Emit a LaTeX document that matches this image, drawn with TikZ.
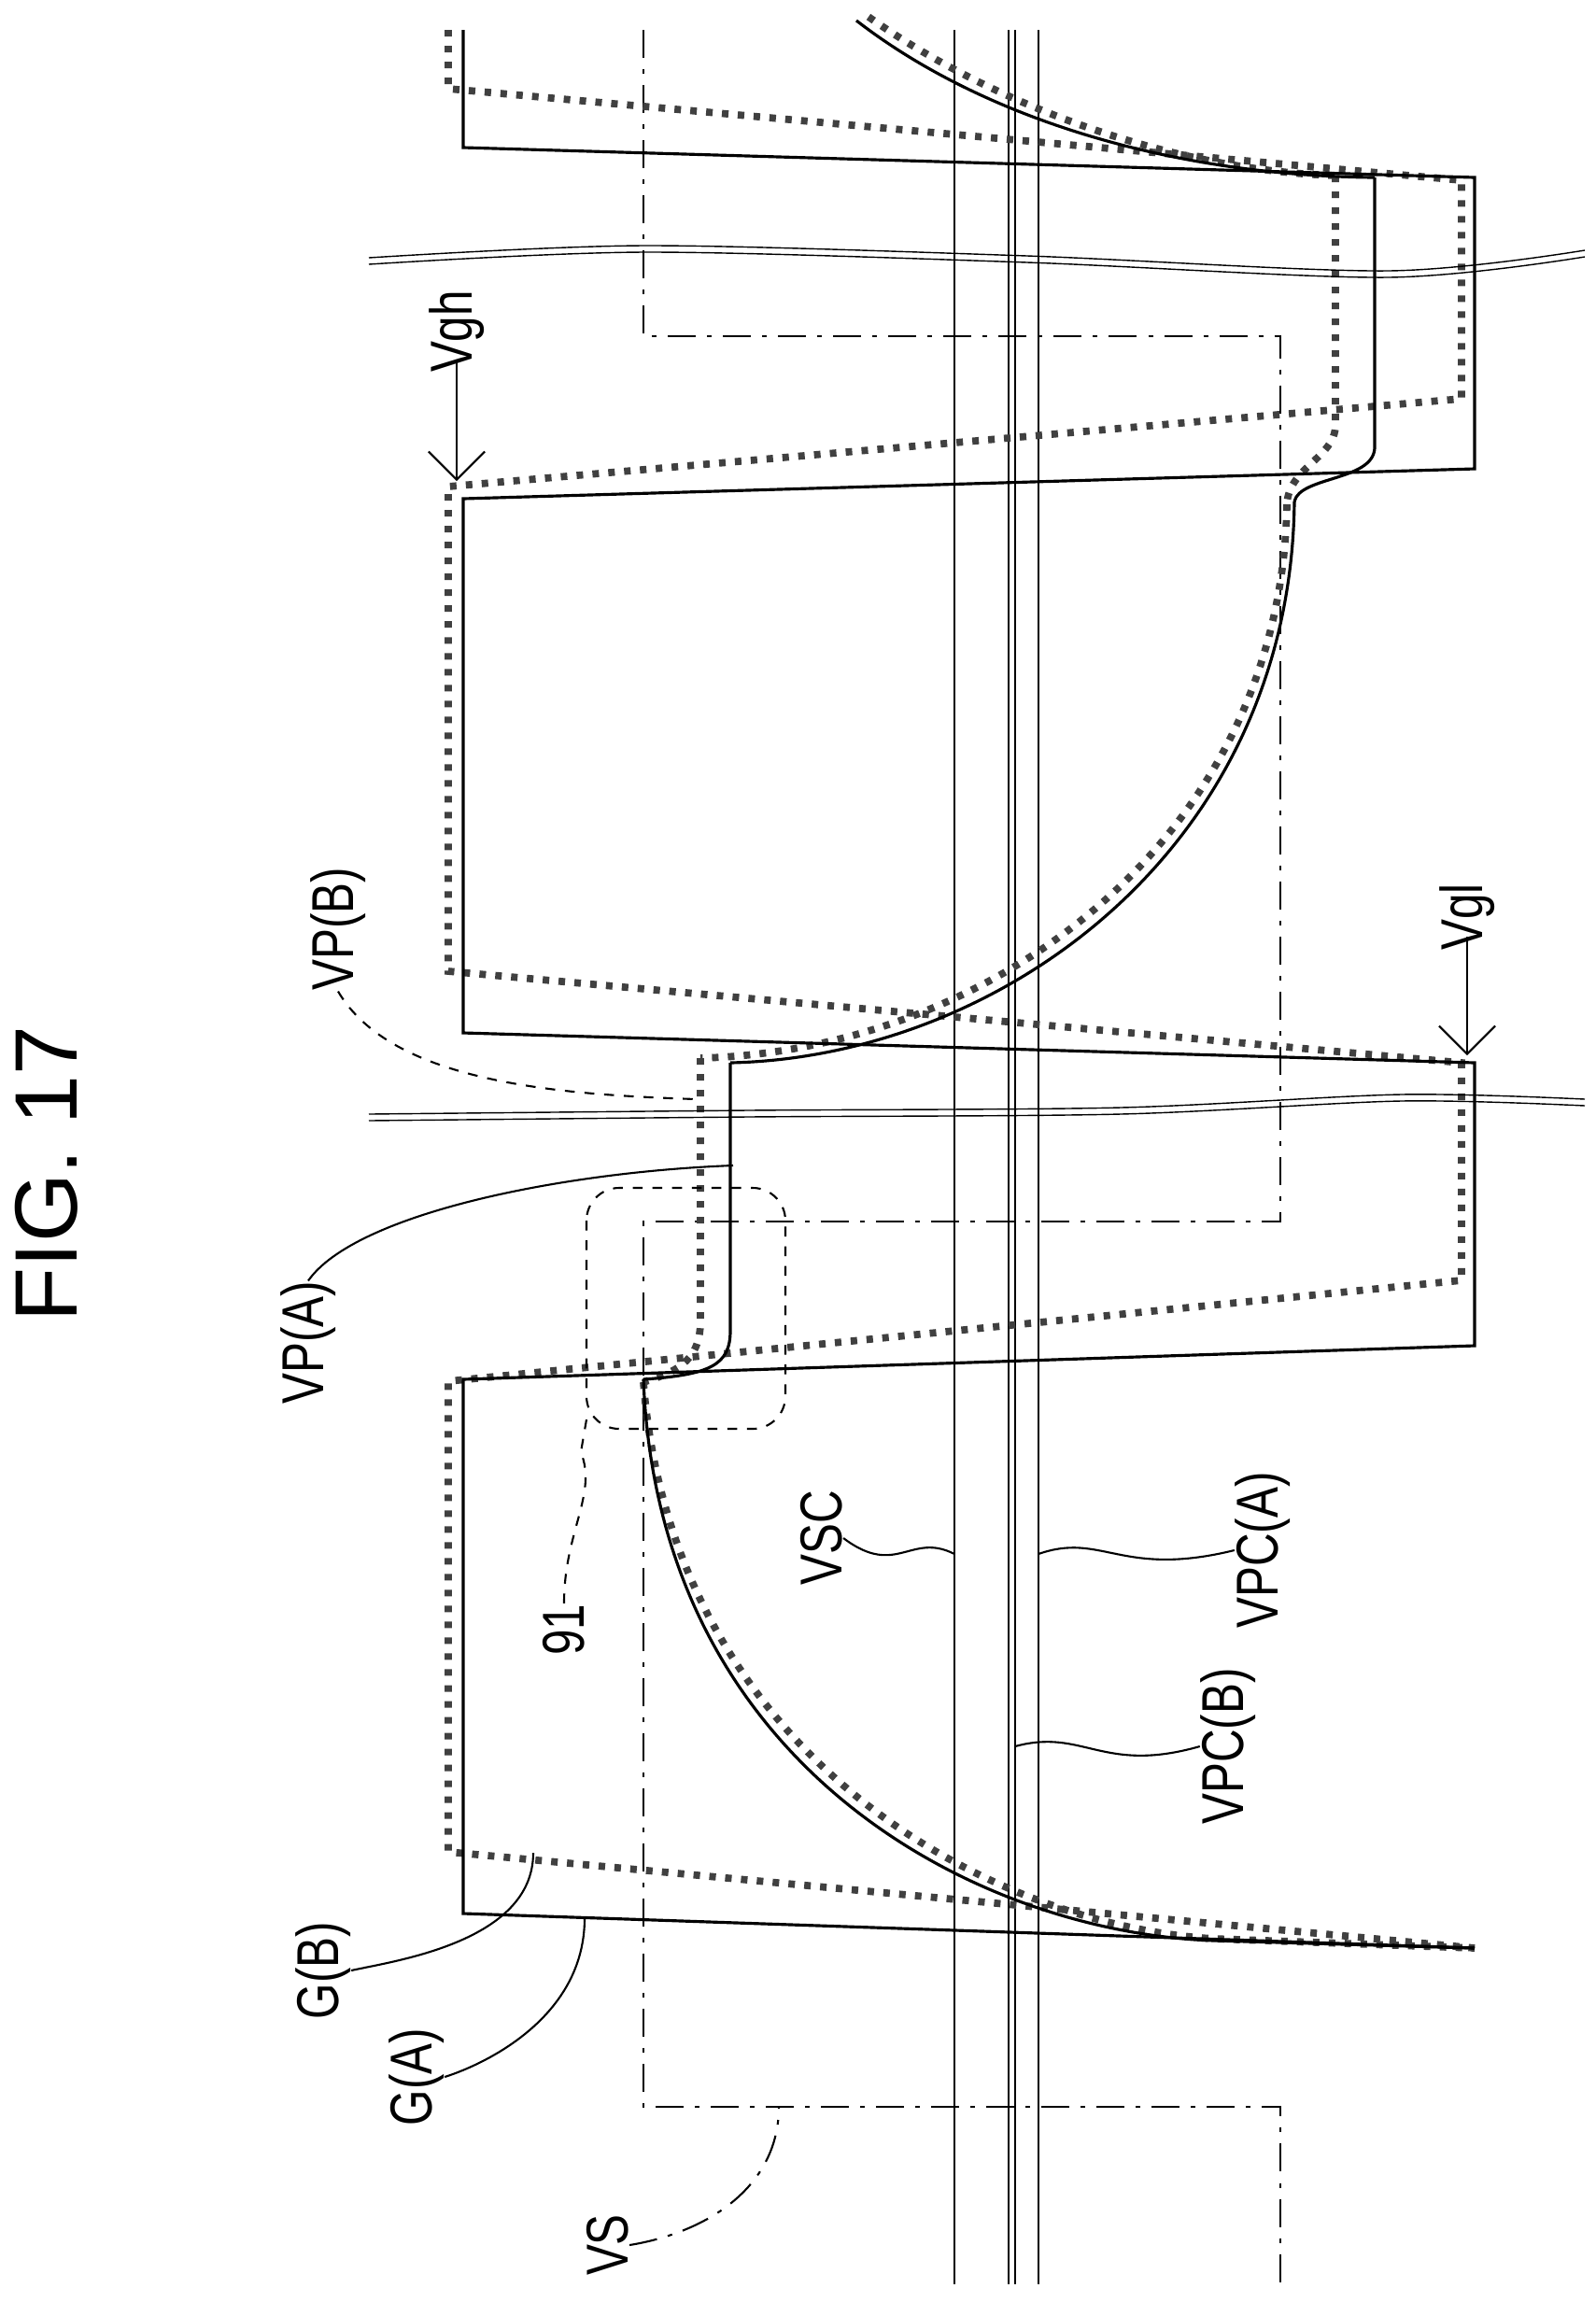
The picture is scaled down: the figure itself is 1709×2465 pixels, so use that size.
\documentclass[tikz,border=0pt]{standalone}
\usepackage{fontspec}
\setmainfont{Liberation Sans}
\usetikzlibrary{arrows.meta}
\newcommand{\lbl}[3]{%
\node[rotate=90, inner sep=0pt, font=\fontsize{18}{18}\selectfont] (#1) at (#2) {\scalebox{0.78}[1]{#3}};
}
\newcommand{\breakline}[1]{%
\draw[thin] plot[smooth] coordinates {#1};
}
\tikzset{
 wave/.style={line width=0.9pt},
 dotw/.style={line width=2.2pt, black!75, dash pattern=on 0.07cm off 0.1cm},
 dashdot/.style={line width=0.8pt, dash pattern=on 0.3cm off 0.12cm on 0.05cm off 0.12cm},
 lead/.style={line width=0.6pt},
}
\begin{document}
\begin{tikzpicture}[x=0.01cm, y=-0.01cm]
\useasboundingbox (0,0) rectangle (1709,2465);

% common lines
\foreach \x in {1022,1080,1087,1112}
{
\draw[line width=0.8pt] (\x,32) -- (\x,2446);
}

% VS
\draw[dashdot] (689,32) -- (689,360) -- (1371,360) -- (1371,1308) -- (689,1308) -- (689,2256) -- (1371,2256) -- (1371,2446);

% G(B), VP(B)
\draw[dotw] (480,32) -- (480,95) -- (1565,193) -- (1565,427) -- (480,521) -- (480,1040) -- (1565,1138) -- (1565,1371) -- (480,1479) -- (480,1983) -- (1579,2086);
\draw[dotw] (930,18) .. controls (1060,110) and (1250,182) .. (1430,188);
\draw[dotw] (1430,188) -- (1430,455) .. controls (1430,490) and (1380,500) .. (1378,540);
\draw[dotw] (1378,540) .. controls (1372,900) and (1060,1125) .. (750,1133);
\draw[dotw] (750,1133) -- (750,1415) .. controls (750,1460) and (720,1470) .. (689,1480);
\draw[dotw] (689,1480) .. controls (720,1880) and (1060,2062) .. (1300,2076) -- (1579,2086);

% G(A), VP(A)
\draw[wave] (496,32) -- (496,158) -- (1579,190) -- (1579,502) -- (496,534) -- (496,1106) -- (1579,1138) -- (1579,1441) -- (496,1477) -- (496,2049) -- (1579,2086);
\draw[wave] (917,22) .. controls (1050,125) and (1250,188) .. (1472,190);
\draw[wave] (1472,190) -- (1472,480) .. controls (1470,515) and (1392,510) .. (1386,537);
\draw[wave] (1386,537) .. controls (1382,910) and (1070,1132) .. (782,1138);
\draw[wave] (782,1138) -- (782,1425) .. controls (782,1462) and (760,1472) .. (689,1477);
\draw[wave] (689,1477) .. controls (705,1895) and (1050,2070) .. (1300,2078) -- (1579,2086);

% break marks
\breakline{(395,276) (690,263) (1100,274) (1486,290) (1697,268)}
\breakline{(395,283) (690,270) (1100,281) (1486,297) (1697,275)}
\breakline{(395,1193) (800,1189) (1200,1186) (1500,1172) (1697,1177)}
\breakline{(395,1200) (800,1196) (1200,1193) (1500,1179) (1697,1184)}

% region 91
\draw[lead, dashed, rounded corners=0.35cm] (628,1272) rectangle (841,1530);

% labels
\node[rotate=90, font=\fontsize{27}{27}\selectfont] (fig) at (50,1257) {FIG. 17};
\lbl{vgh}{489,355}{Vgh}
\lbl{vgl}{1571,982}{Vgl}
\lbl{vpb}{362,995}{VP(B)}
\lbl{vpa}{330,1438}{VP(A)}
\lbl{n91}{604,1745}{91}
\lbl{vsc}{880,1647}{VSC}
\lbl{vpca}{1352,1660}{VPC(A)}
\lbl{vpcb}{1315,1870}{VPC(B)}
\lbl{gb}{346,2110}{G(B)}
\lbl{ga}{446,2224}{G(A)}
\lbl{vs}{651,2404}{VS}

\coordinate (vghend) at (489,515);
\coordinate (vglend) at (1571,1130);
\draw[lead, -{Straight Barb[length=3mm]}] (vgh.west) ++(0,-15) -- (vghend);
\draw[lead, -{Straight Barb[length=3mm]}] (vgl.west) ++(0,-15) -- (vglend);

\coordinate (vpbend) at (745,1177);
\coordinate (vpaend) at (785,1248);
\coordinate (n91end) at (628,1520);
\coordinate (vscend) at (1022,1664);
\coordinate (vpcaend) at (1112,1664);
\coordinate (vpcbend) at (1087,1870);
\coordinate (gbend) at (571,1984);
\coordinate (gaend) at (626,2054);
\coordinate (vsend) at (834,2256);
\draw[lead, dashed] (vpb.west) .. controls (420,1160) and (600,1172) .. (vpbend);
\draw[lead] (vpa.east) .. controls (380,1300) and (600,1255) .. (vpaend);
\draw[lead, dashed] (n91.east) .. controls (604,1640) and (640,1600) .. (622,1555) -- (n91end);
\draw[lead] (vsc.south) .. controls (960,1690) and (975,1640) .. (vscend);
\draw[lead] (vpca.north) .. controls (1200,1690) and (1180,1640) .. (vpcaend);
\draw[lead] (vpcb.north) .. controls (1180,1900) and (1160,1850) .. (vpcbend);
\draw[lead] (gb.south) .. controls (420,2100) and (571,2080) .. (gbend);
\draw[lead] (ga.south) .. controls (520,2210) and (626,2160) .. (gaend);
\draw[dashdot, line width=0.6pt] (vs.south) .. controls (760,2390) and (834,2340) .. (vsend);
\end{tikzpicture}
\end{document}
